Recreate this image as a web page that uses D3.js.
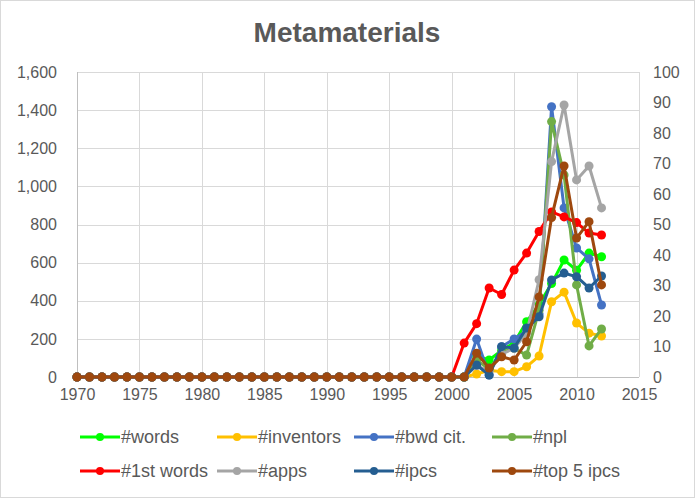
<!DOCTYPE html>
<html>
<head>
<meta charset="utf-8">
<script src="https://cdn.jsdelivr.net/npm/d3@7"></script>
<style>
  html, body { margin: 0; padding: 0; background: #fff; }
  svg { display: block; font-family: "Liberation Sans", Arial, sans-serif; }
</style>
</head>
<body>
<svg id="chart" width="695" height="498"></svg>
<script>
const title = "Metamaterials";
const years = d3.range(1970, 2013);
const zeros31 = [0,0,0,0,0,0,0,0,0,0,0,0,0,0,0,0,0,0,0,0,0,0,0,0,0,0,0,0,0,0,0];
const words      = zeros31.concat([0, 110, 89, 140, 180, 290, 380, 490, 614, 560, 650, 631]);
const inventors  = zeros31.concat([0, 16, 35, 28, 28, 54, 110, 395, 445, 283, 230, 215]);
const bwdCit     = zeros31.concat([0, 199, 10, 159, 200, 240, 330, 1418, 887, 677, 620, 378]);
const npl        = zeros31.concat([0, 90, 40, 130, 150, 115, 350, 1340, 1060, 483, 163, 252]);
const firstWords = zeros31.concat([178, 280, 467, 433, 561, 650, 763, 866, 840, 810, 755, 745]);
const apps       = zeros31.concat([0, 60, 30, 120, 150, 230, 510, 1130, 1427, 1034, 1107, 887]);
const ipcs       = zeros31.concat([0, 63, 10, 159, 152, 257, 316, 509, 545, 526, 467, 530]);
const top5ipcs   = zeros31.concat([0, 125, 47, 106, 89, 185, 420, 837, 1107, 729, 815, 483]);

const seriesNames  = ["#words", "#inventors", "#bwd cit.", "#npl", "#1st words", "#apps", "#ipcs", "#top 5 ipcs"];
const seriesValues = [words, inventors, bwdCit, npl, firstWords, apps, ipcs, top5ipcs];
const seriesColors = ["#00FF00", "#FFC000", "#4472C4", "#70AD47", "#FF0000", "#A5A5A5", "#255E91", "#9E480E"];

const leftTicks  = [0, 200, 400, 600, 800, 1000, 1200, 1400, 1600];
const rightTicks = [0, 10, 20, 30, 40, 50, 60, 70, 80, 90, 100];
const xTicks     = [1970, 1975, 1980, 1985, 1990, 1995, 2000, 2005, 2010, 2015];

const svg = d3.select("#chart");
const W = 695, H = 498;
const textColor = "#595959";

svg.append("rect").attr("x", 0.5).attr("y", 0.5).attr("width", W - 1).attr("height", H - 1)
  .attr("fill", "#fff").attr("stroke", "#d9d9d9");

const x = d3.scaleLinear().domain([1970, 2015]).range([77, 639]);
const y = d3.scaleLinear().domain([0, 1600]).range([377, 72]);
const yR = d3.scaleLinear().domain([0, 100]).range([377, 72]);

// gridlines
const grid = svg.append("g");
grid.selectAll("line.h").data(leftTicks.slice(1)).join("line")
  .attr("x1", x(1970)).attr("x2", x(2015))
  .attr("y1", d => Math.round(y(d)) + 0.5).attr("y2", d => Math.round(y(d)) + 0.5)
  .attr("stroke", "#d9d9d9").attr("stroke-width", 1);
grid.selectAll("line.v").data(xTicks).join("line")
  .attr("x1", d => Math.round(x(d)) + 0.5).attr("x2", d => Math.round(x(d)) + 0.5)
  .attr("y1", y(1600)).attr("y2", y(0))
  .attr("stroke", "#d9d9d9").attr("stroke-width", 1);
// axis lines
svg.append("line").attr("x1", x(1970)).attr("x2", x(2015))
  .attr("y1", Math.round(y(0)) + 0.5).attr("y2", Math.round(y(0)) + 0.5)
  .attr("stroke", "#bfbfbf");
svg.append("line").attr("x1", Math.round(x(1970)) + 0.5).attr("x2", Math.round(x(1970)) + 0.5)
  .attr("y1", y(1600)).attr("y2", y(0)).attr("stroke", "#bfbfbf");

// axes
const axisFont = 16;
const leftAxis = svg.append("g").attr("transform", "translate(57,0)")
  .call(d3.axisLeft(y).tickValues(leftTicks).tickSize(0).tickPadding(0).tickFormat(d3.format(",")));
const rightAxis = svg.append("g").attr("transform", "translate(653,0)")
  .call(d3.axisRight(yR).tickValues(rightTicks).tickSize(0).tickPadding(0));
const bottomAxis = svg.append("g").attr("transform", "translate(0,389)")
  .call(d3.axisBottom(x).tickValues(xTicks).tickSize(0).tickPadding(0).tickFormat(d3.format("d")));
[leftAxis, rightAxis, bottomAxis].forEach(g => {
  g.select(".domain").remove();
  g.selectAll("text").attr("fill", textColor).attr("font-size", axisFont)
    .attr("font-family", "'Liberation Sans', Arial, sans-serif");
});

// series
const line = d3.line().x((d, i) => x(years[i])).y(d => y(d));
seriesValues.forEach((vals, s) => {
  const g = svg.append("g");
  g.append("path").datum(vals).attr("d", line).attr("fill", "none")
    .attr("stroke", seriesColors[s]).attr("stroke-width", 3).attr("stroke-linejoin", "round");
  g.selectAll("circle").data(vals).join("circle")
    .attr("cx", (d, i) => x(years[i])).attr("cy", d => y(d)).attr("r", 4.5)
    .attr("fill", seriesColors[s]);
});

// title
svg.append("text").attr("x", 347).attr("y", 42).attr("text-anchor", "middle")
  .attr("font-size", 28).attr("font-weight", "bold").attr("fill", textColor).text(title);

// legend
const legX = [80, 217, 354, 492];
const legY = [437, 471];
const legend = svg.append("g");
seriesNames.forEach((name, i) => {
  const lx = legX[i % 4], ly = legY[Math.floor(i / 4)];
  const g = legend.append("g").attr("transform", `translate(${lx},${ly})`);
  g.append("line").attr("x1", 0).attr("x2", 40).attr("y1", 0).attr("y2", 0)
    .attr("stroke", seriesColors[i]).attr("stroke-width", 3);
  g.append("circle").attr("cx", 20).attr("cy", 0).attr("r", 4).attr("fill", seriesColors[i]);
  g.append("text").attr("x", 41).attr("y", 0).attr("dy", "0.35em")
    .attr("font-size", 18).attr("fill", textColor).text(name);
});
</script>
</body>
</html>
